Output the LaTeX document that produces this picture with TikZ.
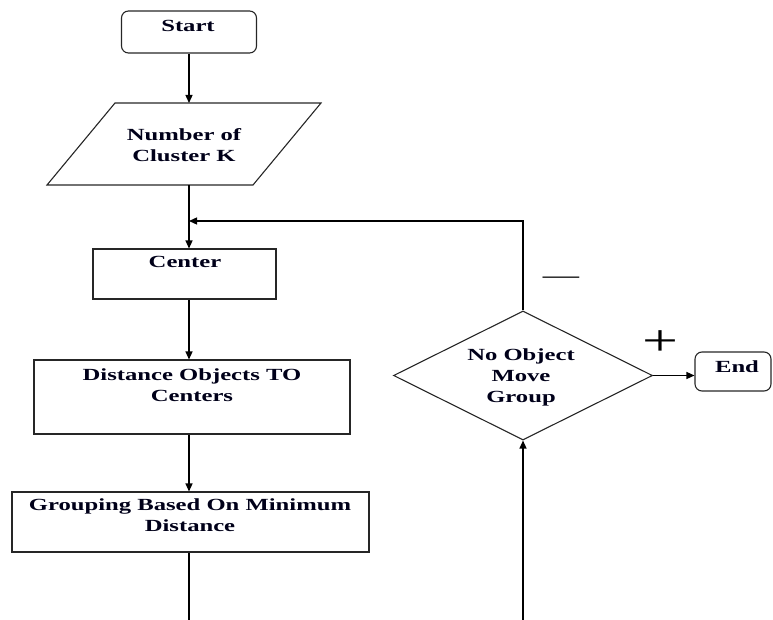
\documentclass[tikz,border=0pt]{standalone}
\usepackage{fontspec}
\setmainfont{Liberation Serif}[FakeStretch=1.45]
\usetikzlibrary{shapes.geometric,arrows.meta}

\begin{document}
\begin{tikzpicture}[x=1pt,y=-1pt,
  box/.style={draw=black!85, line width=1.1pt, rectangle, inner sep=0pt},
  rbox/.style={box, rounded corners=7pt},
  decision/.style={draw=black!85, line width=1.1pt, diamond, inner sep=0pt},
  lbl/.style={font=\fontsize{17}{21}\selectfont\bfseries, align=center, inner sep=0pt, anchor=north, text=black!90!blue},
  conn/.style={line width=1.3pt, -{Triangle[length=8pt,width=7pt]}},
  wire/.style={line width=1.3pt},
  sign/.style={inner sep=0pt}
]
\useasboundingbox (0,0) rectangle (773,620);

% process and terminal shapes
\node[rbox, minimum width=135pt, minimum height=42pt] (start) at (189,32) {};
\node[box, minimum width=183pt, minimum height=50pt] (center) at (184.5,274) {};
\node[box, minimum width=316pt, minimum height=74pt] (dist) at (192,397) {};
\node[box, minimum width=357pt, minimum height=60pt] (grp) at (190.5,522) {};
\node[decision, minimum width=259pt, minimum height=129pt] (dec) at (523,375.5) {};
\node[rbox, minimum width=76pt, minimum height=39pt] (end) at (733,371.5) {};

% input parallelogram
\draw[draw=black!85, line width=1.1pt] (47,185) -- (115,103) -- (321,103) -- (253,185) -- cycle;
\coordinate (inTop) at (189,103);
\coordinate (inBot) at (189,185);

% labels
\node[lbl] (startT) at (188,20) {Start};
\node[lbl] (inT) at (184,128) {Number of\\Cluster K};
\node[lbl] (centerT) at (185,256) {Center};
\node[lbl] (distT) at (192,369) {Distance Objects TO\\Centers};
\node[lbl] (grpT) at (190,499) {Grouping Based On Minimum\\Distance};
\node[lbl] (decT) at (521,349) {No Object\\Move\\Group};
\node[lbl] (endT) at (737,361) {End};
\node[sign, font=\fontsize{44}{44}\selectfont] (plus) at (660,343) {+};
\node[sign, font=\fontsize{25}{25}\selectfont] (minus) at (561,280) {—};

% connectors
\coordinate (join) at (189,221);
\coordinate (grpOut) at (189,620);
\coordinate (decIn) at (523,620);
\draw[conn] (start.south) -- (inTop);
\draw[conn] (inBot) -- (inBot |- center.north);
\draw[conn] (dec.north) |- (join);
\draw[conn] (inBot |- center.south) -- (inBot |- dist.north);
\draw[conn] (inBot |- dist.south) -- (inBot |- grp.north);
\draw[wire] (inBot |- grp.south) -- (grpOut);
\draw[conn] (decIn) -- (dec.south);
\draw[conn] (dec.east) -- (end.west |- dec.east);
\end{tikzpicture}
\end{document}
